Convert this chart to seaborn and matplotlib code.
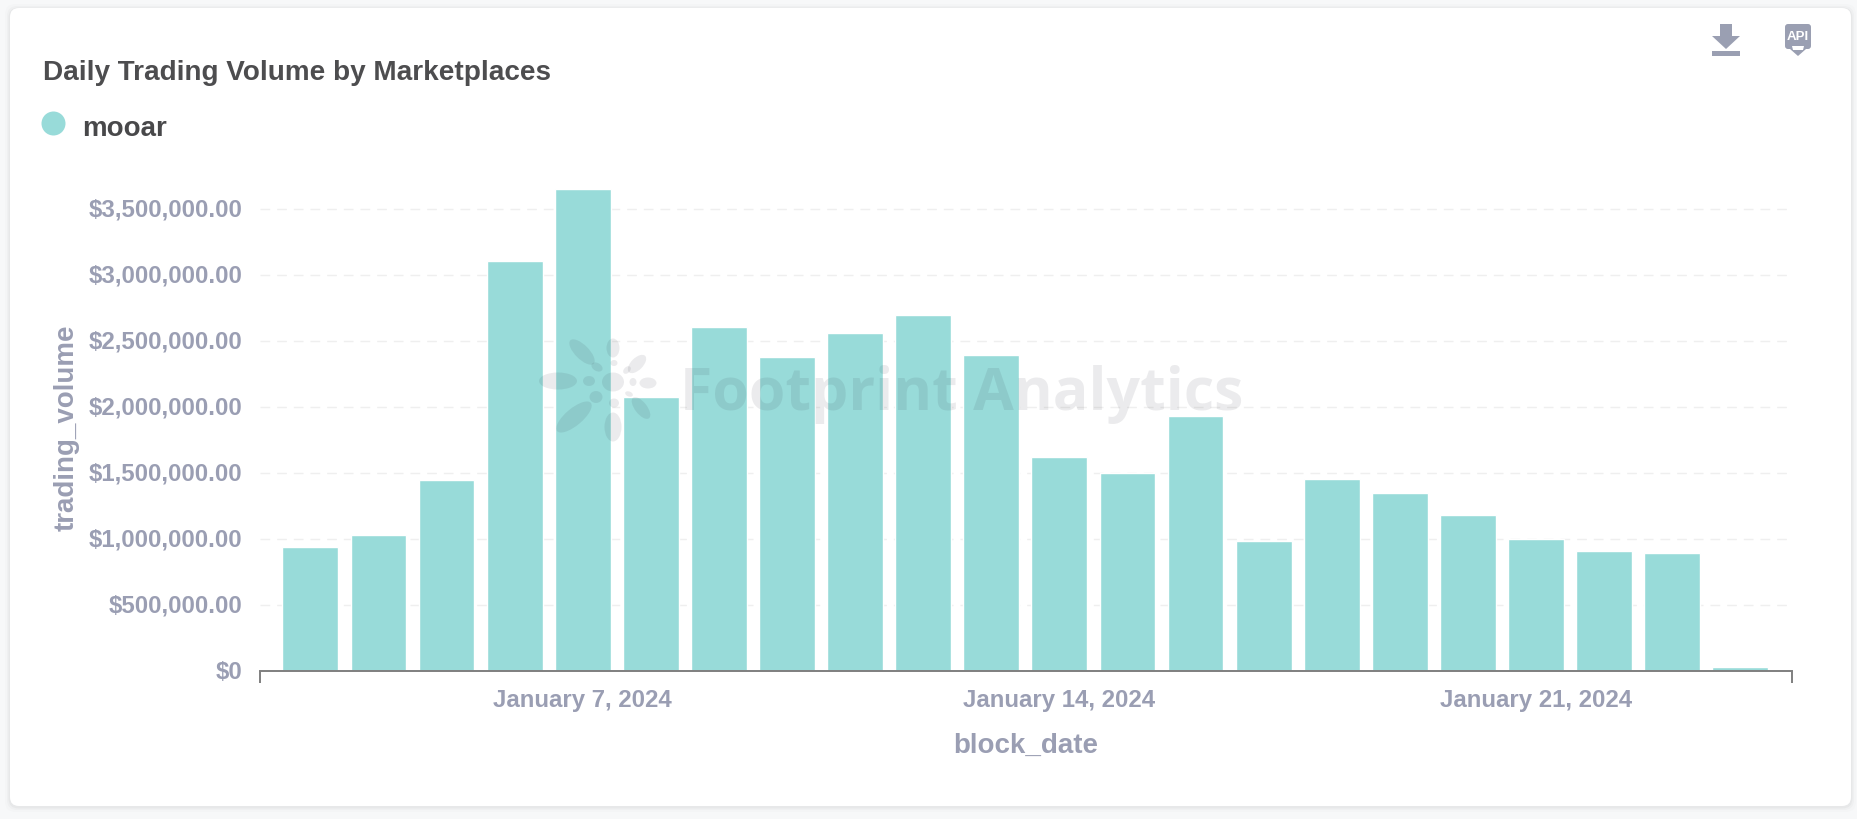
import matplotlib
matplotlib.use('Agg')
import matplotlib.pyplot as plt
from matplotlib.patches import Ellipse, FancyBboxPatch, Polygon, Rectangle
from matplotlib.transforms import ScaledTranslation
import pandas as pd
import seaborn as sns

# values
block_dates = ['2024-01-%02d' % d for d in range(3, 25)]
trading_volume = [943000, 1030000, 1445000, 3105000, 3655000, 2075000, 2610000, 2380000,
                  2560000, 2700000, 2395000, 1625000, 1500000, 1930000, 987000, 1455000,
                  1347000, 1185000, 1000000, 907000, 897000, 30000]
y_ticks = [0, 500000, 1000000, 1500000, 2000000, 2500000, 3000000, 3500000]
y_tick_labels = ['$0', '$500,000.00', '$1,000,000.00', '$1,500,000.00', '$2,000,000.00',
                 '$2,500,000.00', '$3,000,000.00', '$3,500,000.00']
x_tick_dates = ['2024-01-07', '2024-01-14', '2024-01-21']
x_tick_labels = ['January 7, 2024', 'January 14, 2024', 'January 21, 2024']

W, H = 1858, 820
BAR = '#98dbd9'
LABEL = '#9a9eb3'
ICON = '#9a9fb2'

sns.set_style('white')
plt.rcParams['font.family'] = ['Liberation Sans', 'DejaVu Sans']
plt.rcParams['font.weight'] = 'bold'

fig = plt.figure(figsize=(W / 100, H / 100), dpi=100, facecolor='#f7f8f9')

# full figure layer in pixel coordinates, for the card behind the chart
bg = fig.add_axes([0, 0, 1, 1], zorder=0)
bg.set_xlim(0, W)
bg.set_ylim(H, 0)
bg.axis('off')
for grow, alpha in [(5, 0.012), (3, 0.02), (1.5, 0.03)]:
    bg.add_patch(FancyBboxPatch((10 - grow, 9 - grow + 1), 1841 + 2 * grow, 798 + 2 * grow,
                                boxstyle='round,pad=0,rounding_size=10', fc='black', ec='none', alpha=alpha))
bg.add_patch(FancyBboxPatch((10, 9), 1841, 798, boxstyle='round,pad=0,rounding_size=9', fc='white', ec='none'))

# chart
left, right, top, base = 260, 1792, 184, 672
ax = fig.add_axes([left / W, 1 - base / H, (right - left) / W, (base - top) / H], zorder=1)
ax.patch.set_alpha(0)
df = pd.DataFrame({'block_date': block_dates, 'trading_volume': trading_volume})
sns.barplot(data=df, x='block_date', y='trading_volume', color=BAR, saturation=1, width=0.82, ax=ax)
ax.set_xlim(-0.74, len(block_dates) - 0.24)
ax.set_ylim(0, 3700000)

ax.set_yticks(y_ticks)
ax.set_yticklabels(y_tick_labels)
ax.set_xticks([block_dates.index(d) for d in x_tick_dates])
ax.set_xticklabels(x_tick_labels)
ax.set_xticks(ax.get_xlim(), minor=True)
ax.tick_params(axis='both', which='major', length=0, labelsize=17.3, labelcolor=LABEL)
ax.tick_params(axis='x', which='major', pad=12.3)
ax.tick_params(axis='y', which='major', pad=12.6)
ax.tick_params(axis='x', which='minor', bottom=True, length=8.6, width=1.4, color='#7f7f7f')

# nudge the y labels up so they sit centred on the grid lines
nudge = ScaledTranslation(0, 2.4 / 100, fig.dpi_scale_trans)
for label in ax.get_yticklabels():
    label.set_transform(label.get_transform() + nudge)

ax.set_axisbelow(True)
ax.yaxis.grid(True, color='#efefef', linewidth=1, linestyle=(0, (7, 5)))
ax.xaxis.grid(False)
for side in ['top', 'left', 'right']:
    ax.spines[side].set_visible(False)
ax.spines['bottom'].set_color('#7f7f7f')
ax.spines['bottom'].set_linewidth(1.4)

ax.set_xlabel('block_date', fontsize=20, color=LABEL, fontweight='bold')
ax.set_ylabel('trading_volume', fontsize=20, color=LABEL, fontweight='bold')
ax.xaxis.set_label_coords(0.5, -(746 - base) / (base - top), transform=ax.transAxes)
ax.xaxis.label.set_va('center')
ax.yaxis.set_label_coords((67 - left) / (right - left), 0.5, transform=ax.transAxes)
ax.yaxis.label.set_va('center')

# top layer: title, legend, icons and the watermark over the bars
fg = fig.add_axes([0, 0, 1, 1], zorder=2)
fg.set_xlim(0, W)
fg.set_ylim(H, 0)
fg.axis('off')

fg.text(43, 73, 'Daily Trading Volume by Marketplaces', fontsize=20.05, color='#4d4d4f', fontweight='bold', va='center')
fg.add_patch(Ellipse((53.5, 124.5), 24, 24, fc=BAR, ec='none'))
fg.text(82, 129, 'mooar', fontsize=20, color='#48484a', fontweight='bold', va='center')

# download icon
fg.add_patch(Polygon([(1720, 25), (1732, 25), (1732, 37), (1740, 37), (1726, 50), (1712, 37), (1720, 37)], fc=ICON, ec='none'))
fg.add_patch(Rectangle((1712, 52), 28, 5, fc=ICON, ec='none'))
# api icon
fg.add_patch(FancyBboxPatch((1785, 25), 26, 25, boxstyle='round,pad=0,rounding_size=3', fc=ICON, ec='none'))
fg.add_patch(Polygon([(1790, 50), (1806, 50), (1798, 57)], fc=ICON, ec='none'))
fg.add_patch(Polygon([(1792, 47), (1804, 47), (1803, 51), (1793, 51)], fc='white', ec='none'))
fg.text(1798, 37, 'API', fontsize=9.5, color='white', fontweight='bold', ha='center', va='center')

# watermark logo, petals as (x, y, width, height, angle)
petals = [(558, 382, 38, 17, 0), (582, 353, 33, 14, 45), (613, 349, 13, 19, 0), (637, 365, 23, 12, -45),
          (648, 384, 17, 11, 0), (641, 409, 26, 12, 52), (613, 428, 17, 29, 0), (574, 418, 44, 17, -40),
          (613, 383, 22, 19, 0), (589, 382, 12, 10, 0), (597, 368, 12, 8, 30), (596, 398, 13, 12, 0),
          (627, 371, 9, 6, -45), (633, 383, 7, 8, 0), (629, 395, 8, 5, 20), (614, 404, 10, 9, 0), (614, 364, 7, 6, 0)]
for x, y, w, h, angle in petals:
    fg.add_patch(Ellipse((x, y), w, h, angle=angle, fc='#202030', ec='none', alpha=0.085))
fg.text(680, 410, 'Footprint Analytics', fontsize=42.5, family='Open Sans', color='#202030', alpha=0.085,
        fontweight='bold', va='baseline')

fig.savefig('out.png', dpi=100)
